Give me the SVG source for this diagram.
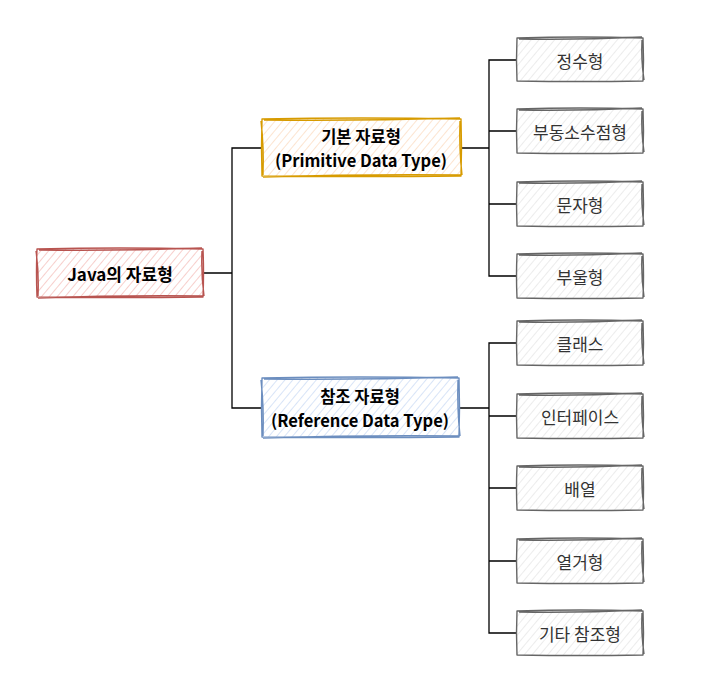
<svg xmlns="http://www.w3.org/2000/svg" width="708" height="688" viewBox="0 0 708 688">
<defs>
<pattern id="hR" width="6" height="6" patternUnits="userSpaceOnUse" patternTransform="rotate(40)"><line x1="0" y1="0" x2="0" y2="6" stroke="#f3b5b0" stroke-width="1.3"/></pattern>
<pattern id="hO" width="6" height="6" patternUnits="userSpaceOnUse" patternTransform="rotate(40)"><line x1="0" y1="0" x2="0" y2="6" stroke="#fbd6b6" stroke-width="1.3"/></pattern>
<pattern id="hB" width="6" height="6" patternUnits="userSpaceOnUse" patternTransform="rotate(40)"><line x1="0" y1="0" x2="0" y2="6" stroke="#c2d6f3" stroke-width="1.3"/></pattern>
<pattern id="hG" width="6" height="6" patternUnits="userSpaceOnUse" patternTransform="rotate(40)"><line x1="0" y1="0" x2="0" y2="6" stroke="#e2e2e2" stroke-width="1.3"/></pattern>
<style>
text{font-family:"Noto Sans CJK KR","Noto Sans",sans-serif;font-size:17px;text-anchor:middle;dominant-baseline:central}
.b{font-weight:bold;fill:#000}
.t{font-size:16.5px}
.c{fill:#333333}
.sk{fill:none;stroke-width:1.4;stroke-linejoin:round}
.r{stroke:#b85450}
.o{stroke:#d79b00}
.bl{stroke:#6c8ebf}
.g{stroke:#666666}
.conn{fill:none;stroke:#000;stroke-width:1.3}
</style>
</defs>
<g id="connectors">
<path class="conn" d="M203 273 H232 V148 H262 M232 273 V408 H262"/>
<path class="conn" d="M461 148 H489 V60 H517 M489 131 H517 M489 148 V276 H517 M489 204 H517"/>
<path class="conn" d="M459 408 H489 V343 H517 M489 416 H517 M489 408 V633 H517 M489 488 H517 M489 561 H517"/>
</g>
<g id="root">
<rect x="37" y="249" width="166" height="48" fill="url(#hR)"/>
<path class="sk r" d="M37 249 Q120 247 203 249 Q204 273 203 297 Q120 298 37 297 Q36 273 37 249 Z M39 250 Q120 251 202 248 M202 251 Q201 274 204 296 M203 296 Q120 295 38 298 M38 296 Q39 272 36 251"/>
<text class="b" x="120" y="273">Java의 자료형</text>
</g>
<g id="primitive">
<rect x="262" y="119" width="199" height="57" fill="url(#hO)"/>
<path class="sk o" d="M262 119 Q361 117 461 119 Q462 148 461 176 Q361 177 262 176 Q261 148 262 119 Z M264 120 Q361 121 460 118 M460 121 Q459 148 462 175 M461 175 Q361 174 263 177 M263 175 Q264 147 261 121"/>
<text class="b t" x="361" y="136">기본 자료형</text>
<text class="b t" x="361" y="160">(Primitive Data Type)</text>
</g>
<g id="reference">
<rect x="262" y="378" width="197" height="59" fill="url(#hB)"/>
<path class="sk bl" d="M262 378 Q360 376 459 378 Q460 408 459 437 Q360 438 262 437 Q261 408 262 378 Z M264 379 Q360 380 458 377 M458 380 Q457 408 460 436 M459 436 Q360 435 263 438 M263 436 Q264 407 261 380"/>
<text class="b t" x="360" y="396">참조 자료형</text>
<text class="b t" x="360" y="420">(Reference Data Type)</text>
</g>
<g id="n1">
<rect x="517" y="38" width="126" height="43" fill="url(#hG)"/>
<path class="sk g" d="M517 38 Q580 36 643 38 Q644 60 643 81 Q580 82 517 81 Q516 60 517 38 Z M519 39 Q580 40 642 37 M642 40 Q641 60 644 80"/>
<text class="c" x="580" y="60">정수형</text>
</g>
<g id="n2">
<rect x="517" y="109" width="126" height="44" fill="url(#hG)"/>
<path class="sk g" d="M517 109 Q580 107 643 109 Q644 131 643 153 Q580 154 517 153 Q516 131 517 109 Z M519 110 Q580 111 642 108 M642 111 Q641 131 644 152"/>
<text class="c" x="580" y="131">부동소수점형</text>
</g>
<g id="n3">
<rect x="517" y="182" width="126" height="44" fill="url(#hG)"/>
<path class="sk g" d="M517 182 Q580 180 643 182 Q644 204 643 226 Q580 227 517 226 Q516 204 517 182 Z M519 183 Q580 184 642 181 M642 184 Q641 204 644 225"/>
<text class="c" x="580" y="204">문자형</text>
</g>
<g id="n4">
<rect x="517" y="254" width="126" height="44" fill="url(#hG)"/>
<path class="sk g" d="M517 254 Q580 252 643 254 Q644 276 643 298 Q580 299 517 298 Q516 276 517 254 Z M519 255 Q580 256 642 253 M642 256 Q641 276 644 297"/>
<text class="c" x="580" y="276">부울형</text>
</g>
<g id="n5">
<rect x="517" y="321" width="126" height="44" fill="url(#hG)"/>
<path class="sk g" d="M517 321 Q580 319 643 321 Q644 343 643 365 Q580 366 517 365 Q516 343 517 321 Z M519 322 Q580 323 642 320 M642 323 Q641 343 644 364"/>
<text class="c" x="580" y="343">클래스</text>
</g>
<g id="n6">
<rect x="517" y="394" width="126" height="44" fill="url(#hG)"/>
<path class="sk g" d="M517 394 Q580 392 643 394 Q644 416 643 438 Q580 439 517 438 Q516 416 517 394 Z M519 395 Q580 396 642 393 M642 396 Q641 416 644 437"/>
<text class="c" x="580" y="416">인터페이스</text>
</g>
<g id="n7">
<rect x="517" y="466" width="126" height="44" fill="url(#hG)"/>
<path class="sk g" d="M517 466 Q580 464 643 466 Q644 488 643 510 Q580 511 517 510 Q516 488 517 466 Z M519 467 Q580 468 642 465 M642 468 Q641 488 644 509"/>
<text class="c" x="580" y="488">배열</text>
</g>
<g id="n8">
<rect x="517" y="539" width="126" height="44" fill="url(#hG)"/>
<path class="sk g" d="M517 539 Q580 537 643 539 Q644 561 643 583 Q580 584 517 583 Q516 561 517 539 Z M519 540 Q580 541 642 538 M642 541 Q641 561 644 582"/>
<text class="c" x="580" y="561">열거형</text>
</g>
<g id="n9">
<rect x="517" y="611" width="126" height="44" fill="url(#hG)"/>
<path class="sk g" d="M517 611 Q580 609 643 611 Q644 633 643 655 Q580 656 517 655 Q516 633 517 611 Z M519 612 Q580 613 642 610 M642 613 Q641 633 644 654"/>
<text class="c" x="580" y="633">기타 참조형</text>
</g>
</svg>
